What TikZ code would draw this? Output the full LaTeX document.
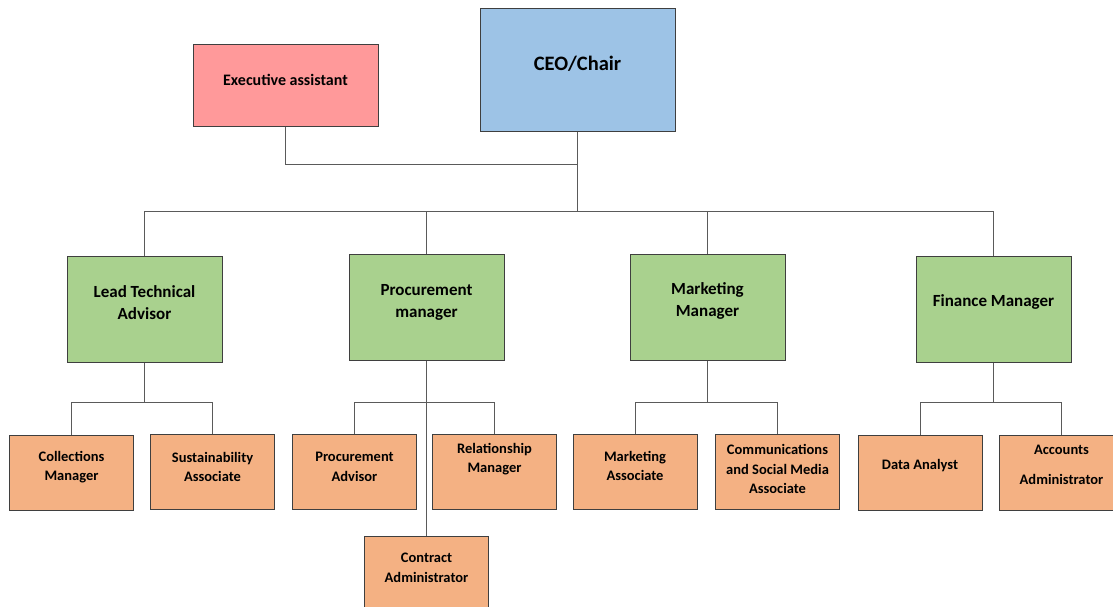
\documentclass[tikz,border=0pt]{standalone}
\usepackage{fontspec}
\setmainfont{Carlito}
\usepackage{xcolor}
\usepackage{tikz}
\definecolor{OCBlue}{HTML}{9DC3E6}
\definecolor{OCRed}{HTML}{FF999A}
\definecolor{OCGreen}{HTML}{A9D18E}
\definecolor{OCOrange}{HTML}{F4B183}
\definecolor{OCLine}{HTML}{5A5A5A}
\definecolor{OCEdge}{HTML}{3F3F3F}

\begin{document}
\begin{tikzpicture}[x=1pt,y=-1pt,
  box/.style={draw=OCEdge,line width=1pt,inner sep=0pt},
  ceobox/.style={box,fill=OCBlue,minimum width=195pt,minimum height=123pt},
  eabox/.style={box,fill=OCRed,minimum width=185pt,minimum height=82pt},
  mgrbox/.style={box,fill=OCGreen,minimum width=155pt,minimum height=106pt},
  staffbox/.style={box,fill=OCOrange,minimum width=124pt,minimum height=75pt},
  lbl/.style={align=center,inner sep=0pt,font=\bfseries\fontsize{14.5}{19.5}\selectfont},
  mgrlbl/.style={lbl,font=\bfseries\fontsize{17}{22}\selectfont},
  conn/.style={draw=OCLine,line width=1pt}]
\path[use as bounding box] (0,0) rectangle (1113,606);
\clip (0,0) rectangle (1113,606);
\node[ceobox] (ceo) at (577.5,69.5) {};
\node[lbl,font=\bfseries\fontsize{20.5}{24}\selectfont] (ceot) at (577.5,64) {CEO/Chair};
\node[eabox] (ea) at (285.5,85) {};
\node[lbl,font=\bfseries\fontsize{16}{20}\selectfont] (eat) at (285.5,80) {Executive assistant};
\node[mgrbox] (lta) at (144.5,309) {};
\node[mgrlbl] (ltat) at (144.5,303) {Lead Technical\\Advisor};
\node[mgrbox] (pm) at (426.5,307.5) {};
\node[mgrlbl] (pmt) at (426.5,302) {Procurement\\manager};
\node[mgrbox] (mm) at (707.5,307.5) {};
\node[mgrlbl] (mmt) at (707.5,301) {Marketing\\Manager};
\node[mgrbox] (fm) at (993.5,309) {};
\node[mgrlbl] (fmt) at (993.5,302) {Finance Manager};
\node[staffbox] (cm) at (71.5,472.5) {};
\node[lbl] (cmt) at (71.5,467) {Collections\\Manager};
\node[staffbox] (sa) at (212.5,472) {};
\node[lbl] (sat) at (212.5,467) {Sustainability\\Associate};
\node[staffbox] (pa) at (354.5,472) {};
\node[lbl] (pat) at (354.5,467) {Procurement\\Advisor};
\node[staffbox] (rm) at (494.5,472) {};
\node[lbl] (rmt) at (494.5,459) {Relationship\\Manager};
\node[staffbox] (ca) at (426.5,573.5) {};
\node[lbl] (cat) at (426.5,568) {Contract\\Administrator};
\node[staffbox] (ma) at (635,472) {};
\node[lbl] (mat) at (635,466) {Marketing\\Associate};
\node[staffbox] (cs) at (777.5,472) {};
\node[lbl] (cst) at (777.5,469) {Communications\\and Social Media\\Associate};
\node[staffbox] (da) at (920,472.5) {};
\node[lbl] (dat) at (920,466) {Data Analyst};
\node[staffbox] (aa) at (1061.5,472.5) {};
\node[lbl] (aat) at (1061.5,465) {Accounts\\[10pt]Administrator};
\coordinate (eaj) at (0,164);
\coordinate (hub) at (0,211);
\coordinate (sub) at (0,402);
\draw[conn] (ea.south) |- (ceo.south |- eaj);
\draw[conn] (ceo.south) -- (ceo.south |- hub);
\draw[conn] (lta.north |- hub) -- (fm.north |- hub);
\foreach \m in {lta,pm,mm,fm}
  \draw[conn] (\m.north |- hub) -- (\m.north);
\foreach \m/\a/\b in {lta/cm/sa,pm/pa/rm,mm/ma/cs,fm/da/aa}{
  \draw[conn] (\m.south) -- (\m.south |- sub);
  \draw[conn] (\a.north) |- (\b.north |- sub) -- (\b.north);
}
\draw[conn] (pm.south) -- (ca.north);
\end{tikzpicture}
\end{document}
